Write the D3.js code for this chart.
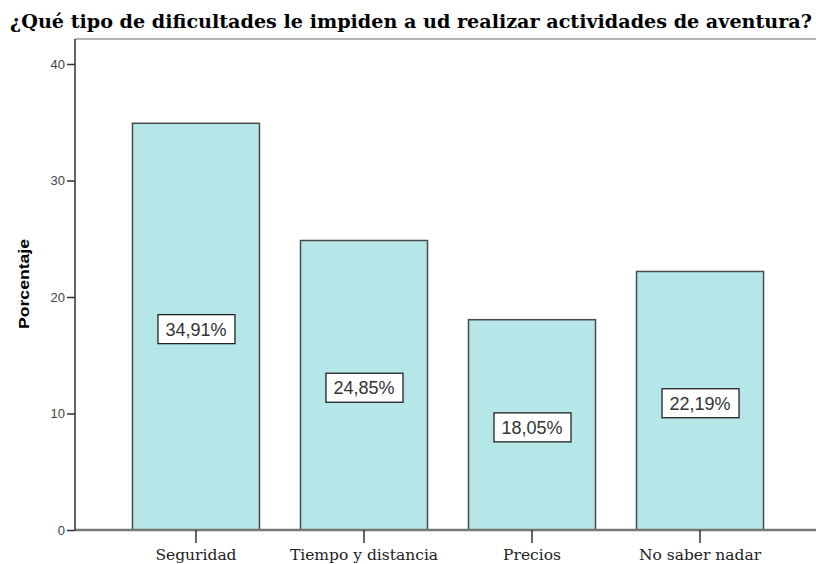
<!DOCTYPE html>
<html>
<head>
<meta charset="utf-8">
<script src="https://cdn.jsdelivr.net/npm/d3@7"></script>
<style>
html,body{margin:0;padding:0;background:#fff;overflow:hidden}
svg{display:block}
</style>
</head>
<body>
<svg id="chart" width="816" height="564"></svg>
<script>
const title = "¿Qué tipo de dificultades le impiden a ud realizar actividades de aventura?";
const categories = ["Seguridad", "Tiempo y distancia", "Precios", "No saber nadar"];
const values = [34.91, 24.85, 18.05, 22.19];
const valueLabels = ["34,91%", "24,85%", "18,05%", "22,19%"];
const yTicks = [0, 10, 20, 30, 40];
const yTitle = "Porcentaje";

const svg = d3.select("#chart");
const mLeft = 75, mRight = 821, mTop = 39, mBottom = 530;

const x = d3.scaleBand().domain(categories).range([mLeft, mRight]).paddingInner(0.244).paddingOuter(0.342);
const y = d3.scaleLinear().domain([0, 40]).range([mBottom, 64]);

// title
svg.append("text").attr("x", 10).attr("y", 28)
  .attr("font-family", "DejaVu Serif, serif")
  .attr("font-weight", "bold").attr("font-size", 18).attr("font-stretch", "condensed")
  .attr("textLength", 802).attr("lengthAdjust", "spacingAndGlyphs")
  .attr("fill", "#000").text(title);

// frame top line
svg.append("line").attr("x1", mLeft).attr("x2", 816).attr("y1", mTop).attr("y2", mTop)
  .attr("stroke", "#9a9a9a").attr("stroke-width", 1.5);

// bars
svg.selectAll("rect.bar").data(values).join("rect").attr("class", "bar")
  .attr("x", (d, i) => x(categories[i]))
  .attr("y", d => y(d))
  .attr("width", x.bandwidth())
  .attr("height", d => y(0) - y(d))
  .attr("fill", "#b5e6e8")
  .attr("stroke", "#4a4a4a").attr("stroke-width", 1.5);

// x axis
const xAxis = svg.append("g").attr("transform", `translate(0,${mBottom})`)
  .call(d3.axisBottom(x).tickSize(13).tickSizeOuter(0));
xAxis.select(".domain").attr("stroke", "#777").attr("stroke-width", 2.5).attr("d", `M${mLeft},0H816`);
xAxis.selectAll(".tick line").attr("stroke", "#333").attr("stroke-width", 1.5);
xAxis.selectAll(".tick text").attr("font-family", "DejaVu Serif, serif")
  .attr("font-size", 15.5).attr("fill", "#222").attr("dy", 0).attr("y", 30);

// y axis
const yAxis = svg.append("g").attr("transform", `translate(${mLeft},0)`)
  .call(d3.axisLeft(y).tickValues(yTicks).tickSize(8).tickSizeOuter(0));
yAxis.select(".domain").attr("stroke", "#333").attr("stroke-width", 1.5).attr("d", `M0,${mTop}V${mBottom}`);
yAxis.selectAll(".tick line").attr("stroke", "#333").attr("stroke-width", 1.5);
yAxis.selectAll(".tick text").attr("font-family", "Liberation Sans, Arial, sans-serif")
  .attr("font-size", 13).attr("fill", "#444").attr("x", -10);

// y title
svg.append("text").attr("transform", `translate(29,284) rotate(-90)`)
  .attr("text-anchor", "middle")
  .attr("font-family", "Liberation Sans, Arial, sans-serif")
  .attr("font-weight", "bold").attr("font-size", 14)
  .attr("textLength", 90).attr("lengthAdjust", "spacingAndGlyphs")
  .attr("fill", "#000").text(yTitle);

// value labels
const lab = svg.selectAll("g.lab").data(values).join("g").attr("class", "lab")
  .attr("transform", (d, i) => `translate(${x(categories[i]) + x.bandwidth() / 2},${y(d / 2) + 2})`);
lab.append("rect").attr("x", -38).attr("y", -14).attr("width", 77).attr("height", 29)
  .attr("fill", "#fff").attr("stroke", "#222").attr("stroke-width", 1.3);
lab.append("text").attr("text-anchor", "middle").attr("dy", 7)
  .attr("font-family", "Liberation Sans, Arial, sans-serif")
  .attr("font-size", 18).attr("fill", "#333")
  .text((d, i) => valueLabels[i]);
</script>
</body>
</html>
